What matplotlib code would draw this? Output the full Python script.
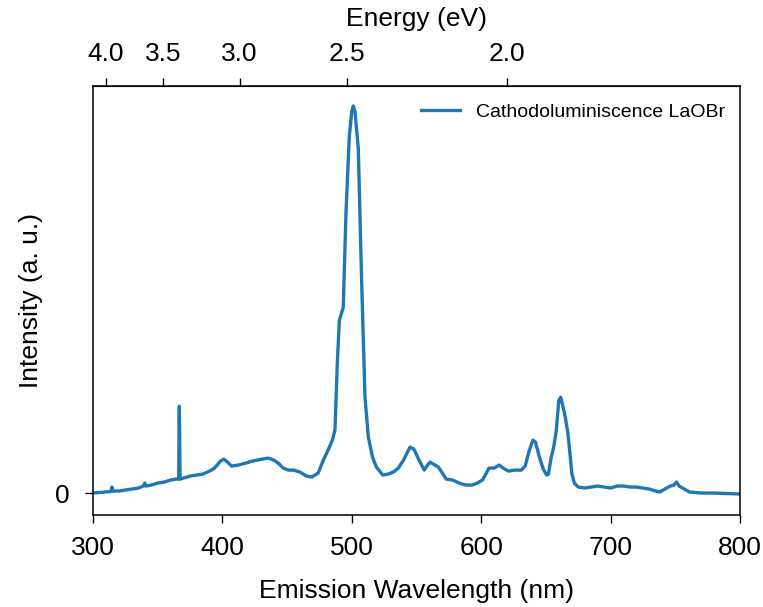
import matplotlib
matplotlib.use("Agg")
import matplotlib.pyplot as plt

plt.rcParams['font.family'] = ['Liberation Sans', 'DejaVu Sans']

wavelength = [300, 305, 310, 314, 314.6, 315.2, 320, 325, 330, 335, 339, 340, 341, 345, 350, 355,
              360, 364, 366.2, 366.7, 367.3, 370, 375, 380, 385, 390, 393, 396, 398.5, 401, 404,
              407, 412, 418, 423, 427, 431, 435, 438, 441, 444, 447, 451, 455, 460, 465, 469,
              474, 478, 482, 485, 487, 488.8, 490.4, 493.4, 495.5, 498, 500, 501.2, 502.5,
              505, 507.6, 510.2, 512.8, 516, 519, 524, 528, 532, 536, 540, 545, 548, 552,
              556, 558, 560.4, 563, 567, 570, 573, 578, 583, 588, 593, 597, 601, 604, 606,
              610, 614, 617, 621, 626, 631, 634, 637, 640, 642, 645, 648, 650.6, 652, 654,
              656, 658, 660, 661.5, 663, 665, 667, 668.6, 670, 672, 675, 680, 685, 690, 695,
              700, 705, 710, 715, 720, 725, 730, 735, 738, 742, 746, 749, 751, 753, 757, 761,
              770, 780, 790, 800]
intensity = [0, 0.5, 1, 1.5, 6, 2, 2, 3, 4, 5, 7, 10, 7, 8, 10, 11,
             13, 14, 14, 87, 14, 15, 17, 18, 19, 22, 24, 28, 32, 34, 31,
             27, 28, 30, 32, 33, 34, 35, 34, 32, 29, 25, 23, 23, 21, 17, 16,
             20, 33, 44, 53, 63, 130, 173, 186, 280, 356, 383, 388, 382,
             346, 213, 96, 56, 36, 26, 18, 19, 21, 25, 33, 46, 44, 33,
             23, 27, 31, 29, 26, 20, 14, 13, 10, 8, 8, 10, 13, 20, 25,
             25, 28, 25, 22, 23, 23, 27, 42, 53, 51, 36, 24, 18, 19, 35,
             46, 62, 93, 96, 88, 76, 60, 40, 20, 10, 6, 5, 6, 7, 6,
             5, 7, 7, 6, 6, 5, 4, 2, 1, 4, 7, 8, 11, 7, 4, 1,
             0, 0, -0.5, -1]

energy_ticks = [4.0, 3.5, 3.0, 2.5, 2.0]

fig = plt.figure(figsize=(7.63, 6.07), dpi=100)
ax = fig.add_axes([0.1219, 0.1516, 0.8479, 0.7067])
ax.plot(wavelength, intensity, color='#1f77b4', lw=2.4, label='Cathodoluminiscence LaOBr')
ax.set_xlim(300, 800)
ax.set_ylim(-22, 408)
ax.set_xticks([300, 400, 500, 600, 700, 800])
ax.set_yticks([0])
ax.set_yticklabels(['0'])
ax.tick_params(axis='x', labelsize=19, length=5.5, width=1, pad=9.5)
ax.tick_params(axis='y', labelsize=19, length=5.5, width=1, pad=11)
ax.set_xlabel('Emission Wavelength (nm)', fontsize=19, labelpad=13.5)
ax.set_ylabel('Intensity (a. u.)', fontsize=19, labelpad=9)
for s in ax.spines.values():
    s.set_linewidth(1.1)

sec = ax.secondary_xaxis('top', functions=(lambda x: 1239.84 / x, lambda e: 1239.84 / e))
sec.set_xticks(energy_ticks)
sec.set_xticklabels([f'{e:.1f}' for e in energy_ticks])
sec.tick_params(labelsize=19, length=5.5, width=1, pad=8.7)
sec.set_xlabel('Energy (eV)', fontsize=19, labelpad=12)

ax.legend(loc='upper right', frameon=False, fontsize=14, bbox_to_anchor=(1.004, 1.0))
fig.savefig('out.png', dpi=100)
